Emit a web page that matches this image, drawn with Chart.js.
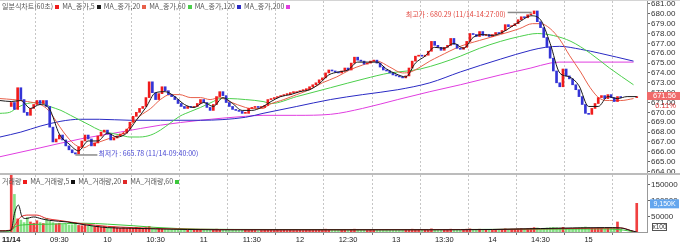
<!DOCTYPE html>
<html><head><meta charset="utf-8">
<script src="https://cdn.jsdelivr.net/npm/chart.js@4.4.1/dist/chart.umd.min.js"></script>
<style>
html,body{margin:0;padding:0;background:#fff;}
#wrap{position:relative;width:680px;height:245px;overflow:hidden;background:#fff;}
#mainBox{position:absolute;left:0;top:0;width:680px;height:174px;}
#volBox{position:absolute;left:0;top:174px;width:680px;height:71px;}
.legend{position:absolute;left:2px;font:7px "Noto Sans CJK KR",sans-serif;color:#555;white-space:nowrap;line-height:9px;}
.legend .sq{display:inline-block;width:4px;height:4px;margin:0 3px 1px 2px;vertical-align:middle;}
.sep{position:absolute;left:0;width:680px;}
</style></head>
<body><div id="wrap">
<div id="mainBox"><canvas id="main" width="680" height="174"></canvas></div>
<div id="volBox"><canvas id="vol" width="680" height="71"></canvas></div>
<div class="sep" style="top:0;height:1px;background:#d4d4d4"></div>
<div class="sep" style="top:173px;height:2px;background:#bcbcbc"></div>
<div class="legend" id="lg1" style="top:2px"></div>
<div class="legend" id="lg2" style="top:177px"></div>
</div>
<script>
// ---------- DATA ----------
const timeTicks  = [0,30,60,90,120,150,180,210,240,270,300,330,360];
const timeLabels = ['11/14','09:30','10','10:30','11','11:30','12','12:30','13','13:30','14','14:30','15'];
const priceTicks = [664,665,666,667,668,669,670,671,672,673,674,675,676,677,678,679,680,681];
const volTicks   = [50000,100000,150000];

const priceLegend = ['일분식차트(60초)','MA_종가,5','MA_종가,20','MA_종가,60','MA_종가,120','MA_종가,200'];
const volLegend   = ['거래량','MA_거래량,5','MA_거래량,20','MA_거래량,60'];

const prevClose = 670.6;
// closes every 2 minutes from 09:00 to 15:20, then the 15:30 closing auction
const closes = [
 671.0,670.3,672.5,671.3,670.0,669.7,670.4,670.8,671.2,670.9,
 671.2,670.6,668.5,667.0,667.3,667.7,667.2,666.6,666.2,665.9,
 665.78,666.5,667.1,667.7,667.3,666.6,666.9,667.6,668.0,668.2,
 667.8,667.2,667.4,667.6,667.8,667.9,668.3,669.0,669.6,670.0,
 670.4,670.6,671.5,673.1,672.0,671.3,671.9,672.6,672.2,671.8,
 671.6,671.3,670.9,670.6,670.4,670.6,670.5,670.6,670.9,671.3,
 671.0,670.5,670.2,670.8,671.6,672.1,671.7,671.0,670.6,670.3,
 670.2,670.1,669.9,669.9,670.4,670.5,670.6,670.5,670.5,670.7,
 671.3,671.4,671.5,671.6,671.7,671.8,671.8,672.0,672.0,672.1,
 672.2,672.3,672.3,672.6,672.8,673.0,673.3,673.5,674.0,674.3,
 674.2,674.1,674.0,674.2,674.5,674.3,675.0,675.6,675.3,675.2,
 674.9,675.0,675.2,675.3,675.0,674.6,674.3,674.2,674.0,673.8,
 673.7,673.6,673.5,673.7,674.5,675.2,675.7,675.8,675.7,675.8,
 676.2,677.2,676.8,676.6,676.3,676.6,676.8,677.5,676.9,676.5,
 676.4,676.6,677.2,678.0,677.9,677.7,678.2,677.8,677.9,677.7,
 677.9,678.1,678.0,678.3,678.9,678.7,678.8,679.0,679.4,679.7,
 679.6,679.9,680.0,680.29,679.2,678.6,677.6,676.6,675.5,674.2,
 673.0,672.6,674.4,673.7,673.4,672.8,672.3,671.6,670.8,669.9,
 669.8,670.4,670.9,671.5,671.7,671.4,671.8,671.5,671.1,671.6,
 671.5,
 671.56
];
const volumes = [
 250000,120000,42000,38000,30000,46000,32000,28000,36000,30000,
 27000,44000,34000,30000,26000,28000,24000,25000,22000,23000,
 30000,21000,20000,22000,18000,19000,17000,20000,16000,18000,
 15000,14000,16000,13000,12000,14000,11000,13000,12000,15000,
 13000,11000,14000,18000,12000,10000,11000,9000,10000,8000,
 9000,8000,7000,9000,8000,7000,8000,6000,7000,6000,
 8000,7000,6000,7000,9000,8000,6000,7000,5000,6000,
 6000,5000,7000,6000,5000,6000,5000,4000,5000,6000,
 7000,6000,5000,6000,5000,6000,5000,6000,5000,5000,
 6000,5000,6000,7000,6000,7000,8000,7000,9000,8000,
 7000,6000,6000,7000,8000,6000,8000,9000,7000,6000,
 6000,5000,6000,7000,6000,7000,6000,6000,7000,6000,
 6000,7000,6000,7000,8000,9000,8000,7000,6000,7000,
 8000,10000,8000,7000,7000,8000,7000,9000,8000,7000,
 7000,8000,9000,10000,8000,7000,9000,8000,7000,7000,
 8000,8000,7000,8000,10000,8000,9000,9000,10000,11000,
 10000,11000,12000,14000,13000,11000,12000,13000,14000,15000,
 14000,13000,15000,12000,11000,12000,13000,14000,15000,16000,
 14000,12000,11000,13000,12000,11000,12000,13000,15000,32000,
 10000,
 91500
];
const auctionMinute = 390;

const ma5Min  = [-7,0,6,12,18,24,30,36,42,48,54,60,66,72,78,84,90,96,102,108,114,120,126,132,138,144,150,156,162,168,174,180,186,192,198,204,210,216,222,228,234,240,246,252,258,264,270,276,282,288,294,300,306,312,318,324,330,336,342,348,354,360,366,372,378,384,390];
const ma5Val  = [671.2,671.1,671.2,670.4,670.8,670.3,667.8,666.8,666.1,667.1,667.1,667.9,667.5,667.9,669.2,670.5,672.0,672.1,671.6,670.8,670.5,671.0,670.6,671.5,670.9,670.2,670.2,670.5,671.1,671.6,671.8,672.1,672.3,672.9,673.8,674.1,674.3,675.1,675.1,675.1,674.4,673.9,673.6,675.0,675.7,676.6,676.5,677.0,676.5,677.6,677.9,677.8,678.1,678.7,679.3,679.8,679.4,677.0,674.0,673.6,672.7,670.6,670.6,671.6,671.4,671.6,671.6];
const ma20Min = [-7,1,10,18,22,26,30,35,40,45,49,55,62,68,74,80,87,93,99,105,112,118,124,130,136,146,149,157,161,170,178,186,194,203,211,219,228,236,244,249,255,261,267,280,292,305,317,325,330,336,342,348,355,361,367,373,380,388];
const ma20Val = [671.4,671.3,671.1,670.8,670.4,669.6,668.6,667.5,666.7,666.4,666.7,667.0,667.4,667.7,668.6,669.6,670.4,671.3,671.8,671.8,671.5,671.5,671.3,671.5,671.1,670.5,670.4,670.4,670.8,671.3,671.8,672.3,673.0,673.6,674.3,674.8,675.2,674.6,674.0,674.1,674.6,675.2,675.7,676.7,677.3,677.9,678.5,679.0,679.0,678.5,677.4,675.8,674.1,672.5,671.4,671.2,671.2,671.4];
const ma60Min = [-7,-1,4,10,18,24,31,37,43,49,55,62,68,74,80,87,93,99,105,112,118,126,130,136,146,157,162,178,199,220,236,247,255,268,280,292,305,317,328,338,349,361,373,388];
const ma60Val = [669.9,670.0,670.5,670.9,671.0,670.6,670.2,669.7,669.2,668.7,668.2,667.9,667.7,667.5,667.5,667.7,668.2,668.9,669.6,670.1,670.5,671.1,671.4,671.4,671.3,671.1,670.9,671.6,672.5,673.4,674.0,674.2,674.4,675.0,675.7,676.5,677.2,677.7,678.0,677.8,677.2,676.0,674.5,672.8];
const ma120Min = [-7,6,18,31,43,55,74,93,118,146,157,178,199,219,241,261,280,305,324,333,342,355,367,388];
const ma120Val = [667.5,668.0,668.6,669.1,669.3,669.3,669.2,669.2,669.2,669.5,669.9,670.6,671.3,671.8,672.3,673.0,674.1,675.4,676.3,676.6,676.7,676.4,676.0,675.2];
const ma200Min = [-7,18,43,68,93,118,146,157,178,199,219,241,261,280,305,324,336,342,388];
const ma200Val = [665.5,666.4,667.3,668.0,668.7,669.2,669.6,669.7,669.7,669.8,670.4,671.3,672.1,672.8,673.8,674.5,675.0,675.1,675.1];

const vma5Min  = [-7,0,2,4.5,6.5,9,14,19,24,35,47,60,75,90,110,130,200,260,300,330,350,370,380,386,390];
const vma5Val  = [3000,6000,59000,86000,52000,43000,48000,42000,37000,32000,22000,14000,12000,10000,8000,7000,7000,7000,8000,11000,13000,14000,13000,5000,0];
const vma20Min = [-7,0,2,6,11,16,22,30,45,60,76,100,130,200,260,300,330,360,380,388];
const vma20Val = [4000,6000,20000,48000,54000,54000,43000,37000,26000,18000,14000,10000,8000,7000,7500,8000,10000,12000,13000,2000];
const vma60Min = [-7,-1,2,6,24,45,60,76,89,118,160,220,280,330,370,382,388];
const vma60Val = [4000,2000,15000,22000,25000,28000,25000,20000,15000,9000,8000,7500,8000,9000,10000,6000,0];

const highPrice = 680.29, highMinute = 327, highStamp = '11/14-14:27:00';
const lowPrice  = 665.78, lowMinute  = 40,  lowStamp  = '11/14-09:40:00';
const lastPrice = 671.56, lastChange = '0.11%';
const lastVolumeLabel = '9,150K';
const volUnitLabel = 'x100';

// ---------- STYLE ----------
const C = {up:'#f01c1c', down:'#3434d6', ma5:'#1a1a1a', ma20:'#e8604a', ma60:'#4ccf4c', ma120:'#2a2ac4', ma200:'#e03ee0',
           volUp:'#f04040', volDown:'#86e086', vma5:'#111111', vma20:'#e02828', vma60:'#3cc83c', grid:'#c6c6c6', axis:'#999'};
const priceLegendColors = [C.up, C.ma5, C.ma20, C.ma60, C.ma120, C.ma200];
const volLegendColors = [C.up, C.vma5, C.vma20, C.vma60];
const X_MIN = -7, X_MAX = 396.4;
const NUM = '"Liberation Sans", Arial, sans-serif';
const KR = '"Noto Sans CJK KR", sans-serif';

function buildLegend(el, labels, colors){
  el.innerHTML = labels.map((l,i)=>`<span>${l}</span><span class="sq" style="background:${colors[i]}"></span>`).join('');
}
buildLegend(document.getElementById('lg1'), priceLegend, priceLegendColors);
buildLegend(document.getElementById('lg2'), volLegend, volLegendColors);

const minuteAt = i => (i < closes.length - 1 ? i * 2 : auctionMinute);
const opens = closes.map((c,i)=> i === 0 ? prevClose : closes[i-1]);
const isUp = closes.map((c,i)=> c >= opens[i]);
const candles = closes.map((c,i)=>({x:minuteAt(i), y:[opens[i], c]}));
const volBars = volumes.map((v,i)=>({x:minuteAt(i), y:v}));
const pts = (m, v) => m.map((t,i)=>({x:t, y:v[i]}));

const lineDs = (data, color, order) => ({type:'line', data, borderColor:color, borderWidth:1, pointRadius:0,
  cubicInterpolationMode:'monotone', order, fill:false});

function xScale(withLabels){
  return {
    type:'linear', min:X_MIN, max:X_MAX, offset:false,
    afterBuildTicks: s => { s.ticks = timeTicks.map(v=>({value:v})); },
    afterFit: s => { s.height = withLabels ? 13 : 0; s.paddingLeft = 0; s.paddingRight = 0; },
    grid:{color:C.grid, lineWidth:1, drawTicks:withLabels, tickLength:3, tickColor:'#777'},
    border:{display:withLabels, dash:[2,2], color:C.axis},
    ticks: withLabels ? {
      autoSkip:false, maxRotation:0, padding:0, color:'#222',
      callback:(v,i)=>timeLabels[i],
      font:(ctx)=>({family:NUM, size:7.5, weight: ctx.index===0 ? 'bold' : 'normal'})
    } : {display:false}
  };
}
function yScaleRight(min, max, tickVals, fmt){
  return {
    position:'right', min, max,
    afterBuildTicks: s => { s.ticks = tickVals.map(v=>({value:v})); },
    afterFit: s => { s.width = 33; s.paddingTop = 0; s.paddingBottom = 0; },
    grid:{drawOnChartArea:false, drawTicks:true, tickLength:3, tickColor:'#666'},
    border:{display:true, color:C.axis},
    ticks:{autoSkip:false, padding:1, color:'#333', font:{family:NUM, size:8}, callback:fmt}
  };
}

const mainMarks = {
  id:'mainMarks',
  afterDraw(chart){
    const {ctx, chartArea:a} = chart; const x = chart.scales.x, y = chart.scales.y;
    ctx.save();
    ctx.textBaseline = 'middle';
    ctx.font = '7px ' + KR;
    // highest
    const hx = x.getPixelForValue(highMinute), hy = y.getPixelForValue(highPrice);
    ctx.strokeStyle = '#8a8a8a'; ctx.lineWidth = 1.5;
    ctx.beginPath(); ctx.moveTo(hx-4, hy+1.5); ctx.lineTo(hx-28, hy+1.5); ctx.stroke();
    ctx.fillStyle = '#e2463e'; ctx.textAlign = 'right';
    ctx.fillText(`최고가 : ${highPrice.toFixed(2)} (${highStamp})`, hx-30, hy+3);
    // lowest
    const lx = x.getPixelForValue(lowMinute), ly = y.getPixelForValue(lowPrice);
    ctx.beginPath(); ctx.moveTo(lx, ly+1); ctx.lineTo(lx+22, ly+1); ctx.stroke();
    ctx.fillStyle = '#4646d2'; ctx.textAlign = 'left';
    ctx.fillText(`최저가 : ${lowPrice.toFixed(2)} (${lowStamp})`, lx+23, ly-1);
    // last price box
    const py = y.getPixelForValue(lastPrice);
    ctx.fillStyle = '#f06a6a'; ctx.fillRect(a.right, py-5, chart.width-a.right, 8);
    ctx.font = '7.5px ' + NUM; ctx.textAlign = 'center';
    ctx.fillStyle = '#fff'; ctx.fillText(lastPrice.toFixed(2), (a.right+chart.width)/2+1, py-1);
    ctx.fillStyle = '#e03434'; ctx.fillText(lastChange, (a.right+chart.width)/2+2, py+9);
    ctx.restore();
  }
};
const volMarks = {
  id:'volMarks',
  afterDraw(chart){
    const {ctx, chartArea:a} = chart; const y = chart.scales.y;
    ctx.save();
    const vy = y.getPixelForValue(volumes[volumes.length-1]);
    ctx.fillStyle = '#64a6ee'; ctx.fillRect(a.right+3, vy-4, chart.width-a.right-4, 9);
    ctx.font = '7px ' + NUM; ctx.textAlign = 'center'; ctx.textBaseline = 'middle';
    ctx.fillStyle = '#fff'; ctx.fillText(lastVolumeLabel, (a.right+chart.width)/2+1, vy+0.5);
    ctx.strokeStyle = '#555'; ctx.lineWidth = 1;
    ctx.strokeRect(a.right+5.5, a.bottom-8.5, 14, 7);
    ctx.fillStyle = '#333'; ctx.font = '6.5px ' + NUM;
    ctx.fillText(volUnitLabel, a.right+12.5, a.bottom-5);
    ctx.restore();
  }
};

Chart.defaults.animation = false;

new Chart(document.getElementById('main'), {
  type:'bar',
  data:{datasets:[
    lineDs(pts(ma5Min, ma5Val), C.ma5, 0),
    {type:'bar', data:candles, backgroundColor:isUp.map(u=>u?C.up:C.down), barThickness:2, minBarLength:1, order:1},
    lineDs(pts(ma20Min, ma20Val), C.ma20, 2),
    lineDs(pts(ma60Min, ma60Val), C.ma60, 3),
    lineDs(pts(ma120Min, ma120Val), C.ma120, 4),
    lineDs(pts(ma200Min, ma200Val), C.ma200, 5)
  ]},
  options:{
    responsive:false, animation:false, events:[],
    layout:{padding:{top:1, bottom:2, left:0, right:0}},
    plugins:{legend:{display:false}, tooltip:{enabled:false}},
    scales:{ x:xScale(false), y:yScaleRight(663.95, 681.3, priceTicks, v=>Number(v).toFixed(2)) }
  },
  plugins:[mainMarks]
});

new Chart(document.getElementById('vol'), {
  type:'bar',
  data:{datasets:[
    lineDs(pts(vma5Min, vma5Val), C.vma5, 0),
    lineDs(pts(vma20Min, vma20Val), C.vma20, 1),
    lineDs(pts(vma60Min, vma60Val), C.vma60, 2),
    {type:'bar', data:volBars, backgroundColor:isUp.map(u=>u?C.volUp:C.volDown), barThickness:2, order:3}
  ]},
  options:{
    responsive:false, animation:false, events:[],
    layout:{padding:{top:1, bottom:0, left:0, right:0}},
    plugins:{legend:{display:false}, tooltip:{enabled:false}},
    scales:{ x:xScale(true), y:yScaleRight(0, 181900, volTicks, v=>String(v)) }
  },
  plugins:[volMarks]
});
</script>
</body></html>
